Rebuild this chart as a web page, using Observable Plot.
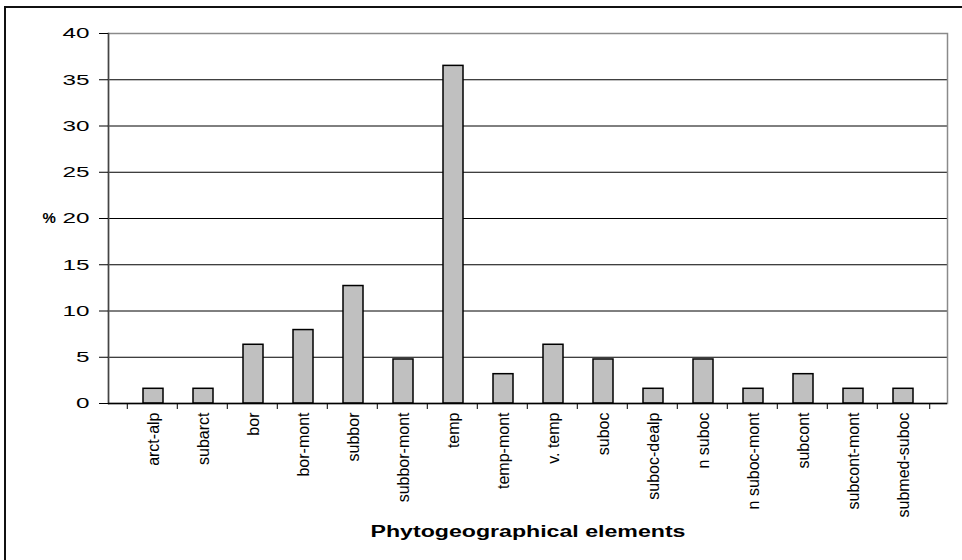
<!DOCTYPE html>
<html>
<head>
<meta charset="utf-8">
<script src="https://cdn.jsdelivr.net/npm/d3@7"></script>
<script src="https://cdn.jsdelivr.net/npm/@observablehq/plot@0.6"></script>
<style>
  html, body { margin: 0; padding: 0; background: #fff; }
  #wrap { position: relative; width: 962px; height: 560px; overflow: hidden; }
  #border { position: absolute; left: 4px; top: 6px; width: 1000px; height: 600px;
            border-top: 2px solid #111; border-left: 2px solid #111; box-sizing: border-box; }
  #chart { position: absolute; left: 0; top: 0; }
</style>
</head>
<body>
<div id="wrap"><div id="border"></div><div id="chart"></div></div>
<script>
const categories = ["arct-alp", "subarct", "bor", "bor-mont", "subbor", "subbor-mont", "temp",
  "temp-mont", "v. temp", "suboc", "suboc-dealp", "n suboc", "n suboc-mont", "subcont",
  "subcont-mont", "submed-suboc"];
const percents = [1.59, 1.59, 6.35, 7.94, 12.7, 4.76, 36.5, 3.17, 6.35, 4.76, 1.59, 4.76, 1.59, 3.17, 1.59, 1.59];
const yTicks = [0, 5, 10, 15, 20, 25, 30, 35, 40];
const gridValues = [5, 10, 15, 20, 25, 30, 35];

const data = categories.map((c, i) => ({category: c, value: percents[i]}));

const W = 962, H = 560, mL = 108, mR = 15, mT = 33, mB = 157;
const step = (W - mL - mR) / categories.length;

const chart = Plot.plot({
  width: W, height: H,
  marginLeft: mL, marginRight: mR, marginTop: mT, marginBottom: mB,
  style: {fontFamily: "'Liberation Sans', Arial, sans-serif", color: "#000", background: "transparent"},
  x: {domain: categories, padding: 0.6, label: "Phytogeographical elements"},
  y: {domain: [0, 40], ticks: yTicks, label: null},
  marks: [
    Plot.ruleY(gridValues, {stroke: "#000", strokeWidth: 1}),
    Plot.frame({stroke: "#8a8a8a", strokeWidth: 1.5}),
    Plot.frame({anchor: "left", stroke: "#444", strokeWidth: 1.5}),
    Plot.barY(data, {x: "category", y: "value", fill: "#c0c0c0", stroke: "#000", strokeWidth: 1.5}),
    Plot.ruleY([0], {stroke: "#000", strokeWidth: 1.5}),
    Plot.ruleX(categories, {x: d => d, y1: 0, y2: 0, dx: -step / 2, insetBottom: -6, stroke: "#000"}),
    Plot.ruleX([categories[categories.length - 1]], {x: d => d, y1: 0, y2: 0, dx: step / 2, insetBottom: -6, stroke: "#000"}),
    Plot.axisY({ticks: yTicks, tickSize: 9, tickPadding: 10, fontSize: 15, label: null, stroke: "#000"}),
    Plot.axisX({tickSize: 0, tickRotate: -90, tickPadding: 9, fontSize: 16,
      label: "Phytogeographical elements", labelAnchor: "center", labelOffset: 133, labelArrow: "none"}),
    Plot.text(["%"], {frameAnchor: "left", dx: -66, text: d => d, fontSize: 15, fontWeight: "bold"})
  ]
});
document.getElementById("chart").appendChild(chart);

// stretch y tick labels horizontally like the reference rendering
d3.select(chart).selectAll('g[aria-label="y-axis tick label"] text').each(function() {
  const t = d3.select(this);
  const n = t.text().length;
  t.attr("textLength", n * 13.5).attr("lengthAdjust", "spacingAndGlyphs");
});
d3.select(chart).selectAll('g[aria-label="x-axis label"] text')
  .attr("font-weight", "bold").attr("font-size", 16)
  .attr("textLength", 315).attr("lengthAdjust", "spacingAndGlyphs");
</script>
</body>
</html>
